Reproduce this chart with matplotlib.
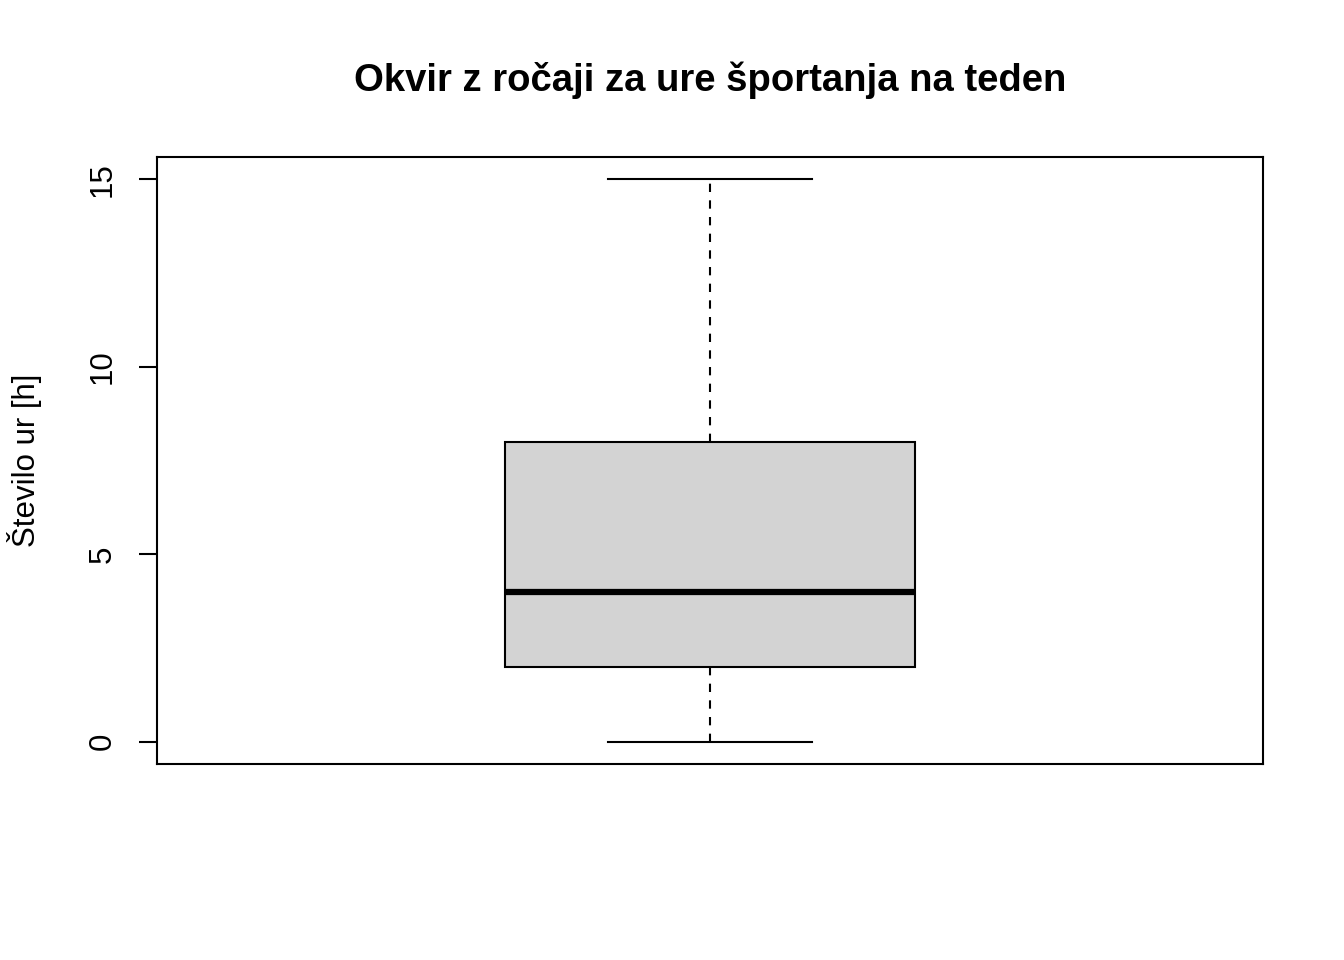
import matplotlib
matplotlib.use("Agg")
import matplotlib.pyplot as plt

# box summary (hours of sport per week)
stat_min = 0
stat_q1 = 2
stat_med = 4
stat_q3 = 8
stat_max = 15
y_ticks = [0, 5, 10, 15]

plt.rcParams['font.family'] = ['Liberation Sans', 'DejaVu Sans']

fig = plt.figure(figsize=(13.44, 9.6), dpi=100)
ax = fig.add_axes([157/1344, 1 - 764/960, (1263-157)/1344, (764-157)/960])

stats = [{
    'whislo': stat_min, 'q1': stat_q1, 'med': stat_med,
    'q3': stat_q3, 'whishi': stat_max, 'fliers': [],
}]
ax.bxp(stats, positions=[1], widths=0.4, patch_artist=True, showfliers=False,
       boxprops=dict(facecolor='#d3d3d3', edgecolor='black', linewidth=1.5),
       medianprops=dict(color='black', linewidth=4.5, solid_capstyle='butt'),
       whiskerprops=dict(color='black', linewidth=1.5, linestyle=(0, (4, 4))),
       capprops=dict(color='black', linewidth=1.5),
       capwidths=0.2)

ax.set_xlim(0.46, 1.54)
ax.set_ylim(-0.6, 15.6)
ax.set_xticks([])
ax.set_yticks(y_ticks)
ax.set_yticklabels([str(t) for t in y_ticks], rotation=90, va='center', fontsize=22.5)
ax.tick_params(axis='y', length=13, width=1.5, pad=15)
for s in ax.spines.values():
    s.set_linewidth(1.5)

fig.text(25/1344, 1 - 460/960, "Število ur [h]", rotation=90,
         ha='center', va='center', fontsize=22.5)
fig.text(710/1344, 1 - 80/960, "Okvir z ročaji za ure športanja na teden",
         ha='center', va='center', fontsize=27.5, fontweight='bold')

fig.savefig("out.png", dpi=100)
